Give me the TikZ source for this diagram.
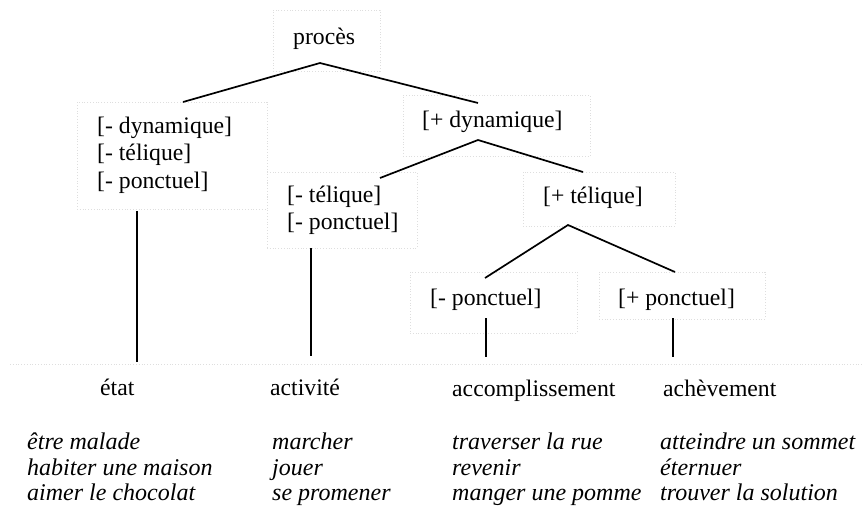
\documentclass[tikz,border=0pt]{standalone}
\usepackage{fontspec}
\setmainfont{Liberation Serif}
\begin{document}
\begin{tikzpicture}[x=1pt,y=-1pt,
  lbl/.style={anchor=base west, inner sep=0pt, font=\fontsize{23.7}{27}\selectfont},
  ex/.style={anchor=base west, inner sep=0pt, font=\fontsize{24}{28}\selectfont\itshape},
  fbox/.style={draw=black!13, dotted, line width=0.8pt, inner sep=0pt},
  branch/.style={line width=1.7pt, black}]
\useasboundingbox (0,0) rectangle (864,506);
\clip (0,0) rectangle (864,506);

% faint boxes
\node[fbox, minimum width=107pt, minimum height=61pt] (bproces) at (326.5,40.5) {};
\node[fbox, minimum width=190pt, minimum height=107pt] (bdyn) at (172,155.5) {};
\node[fbox, minimum width=187pt, minimum height=61pt] (bpdyn) at (496.5,125.5) {};
\node[fbox, minimum width=150pt, minimum height=76pt] (btel) at (342,210) {};
\node[fbox, minimum width=152pt, minimum height=54pt] (bptel) at (599,199) {};
\node[fbox, minimum width=167pt, minimum height=61pt] (bmpon) at (493.5,302.5) {};
\node[fbox, minimum width=166pt, minimum height=47pt] (bppon) at (682,295.5) {};
\coordinate (rowL) at (10,364);
\coordinate (rowR) at (864,364);
\draw[fbox] (rowL) -- (rowR);

% labels
\node[lbl] (proces) at (293,44) {procès};
\node[lbl] (dyn1) at (97,133) {[- dynamique]};
\node[lbl] (dyn2) at (97,160.5) {[- télique]};
\node[lbl] (dyn3) at (97,188) {[- ponctuel]};
\node[lbl] (pdyn) at (422,127) {[+ dynamique]};
\node[lbl] (tel1) at (287,202) {[- télique]};
\node[lbl] (tel2) at (287,229) {[- ponctuel]};
\node[lbl] (ptel) at (543,203) {[+ télique]};
\node[lbl] (mpon) at (430,305) {[- ponctuel]};
\node[lbl] (ppon) at (618,305) {[+ ponctuel]};

\node[lbl] (etat) at (100,395) {état};
\node[lbl] (act) at (270,395) {activité};
\node[lbl] (acc) at (452,396) {accomplissement};
\node[lbl] (ach) at (663,396) {achèvement};

\node[ex] (e11) at (27,449) {être malade};
\node[ex] (e12) at (27,475) {habiter une maison};
\node[ex] (e13) at (27,500) {aimer le chocolat};
\node[ex] (e21) at (272,449) {marcher};
\node[ex] (e22) at (272,475) {jouer};
\node[ex] (e23) at (272,500) {se promener};
\node[ex] (e31) at (452,449) {traverser la rue};
\node[ex] (e32) at (452,475) {revenir};
\node[ex] (e33) at (452,500) {manger une pomme};
\node[ex] (e41) at (660,449) {atteindre un sommet};
\node[ex] (e42) at (660,475) {éternuer};
\node[ex] (e43) at (660,500) {trouver la solution};

% connector points
\coordinate (pA) at (320,63);
\coordinate (dynT) at (183,102);
\coordinate (pdynT) at (478,103);
\coordinate (pdynA) at (478,140);
\coordinate (telT) at (380,178);
\coordinate (ptelT) at (583,172);
\coordinate (ptelA) at (568,225);
\coordinate (mponT) at (485,278);
\coordinate (pponT) at (675,272);
\coordinate (dynB) at (137,211);
\coordinate (etatT) at (137,362);
\coordinate (telB) at (311,248);
\coordinate (actT) at (311,356);
\coordinate (mponB) at (486,318);
\coordinate (accT) at (486,357);
\coordinate (pponB) at (673,318);
\coordinate (achT) at (673,357);

\draw[branch] (dynT) -- (pA) -- (pdynT);
\draw[branch] (telT) -- (pdynA) -- (ptelT);
\draw[branch] (mponT) -- (ptelA) -- (pponT);
\draw[branch] (dynB) -- (etatT);
\draw[branch] (telB) -- (actT);
\draw[branch] (mponB) -- (accT);
\draw[branch] (pponB) -- (achT);
\end{tikzpicture}
\end{document}
